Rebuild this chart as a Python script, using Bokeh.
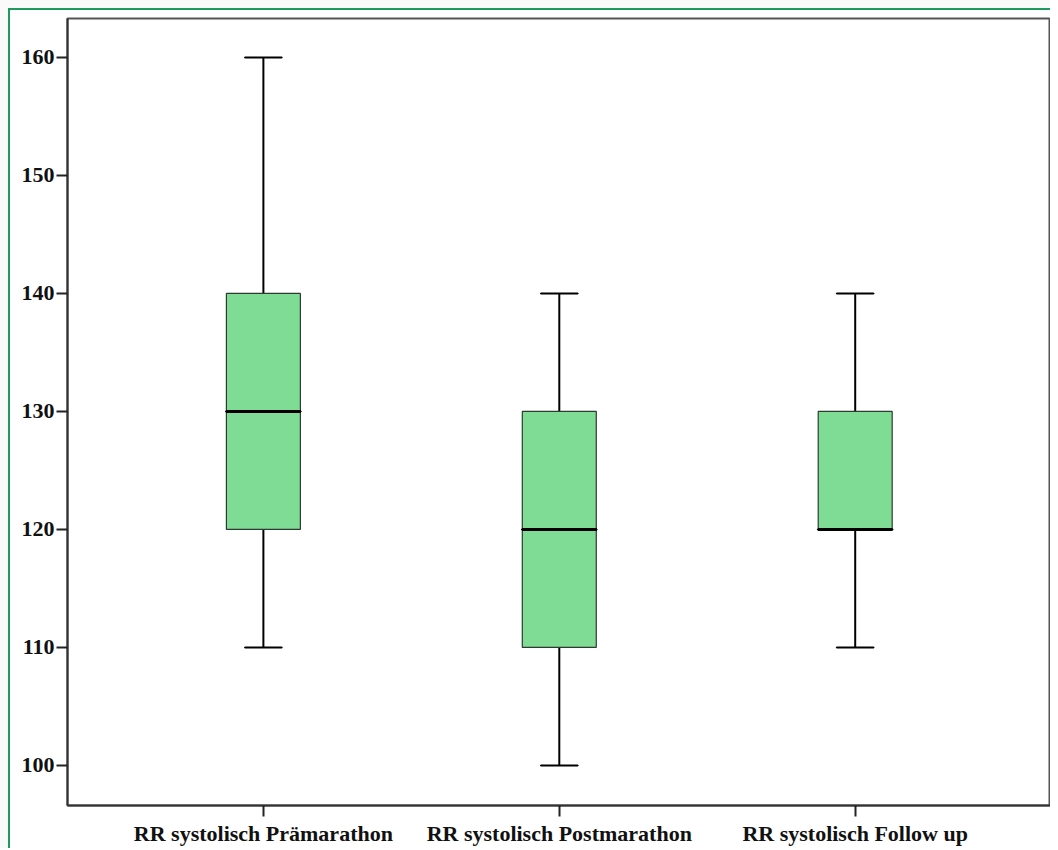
from bokeh.plotting import figure
from bokeh.embed import file_html
from bokeh.resources import INLINE
from bokeh.models import ColumnDataSource, FixedTicker

categories = ["RR systolisch Prämarathon", "RR systolisch Postmarathon", "RR systolisch Follow up"]
mins = [110, 100, 110]
q1 = [120, 110, 120]
medians = [130, 120, 120]
q3 = [140, 130, 130]
maxs = [160, 140, 140]
y_ticks = [100, 110, 120, 130, 140, 150, 160]

xs = list(range(len(categories)))
src = ColumnDataSource(dict(x=xs, mins=mins, q1=q1, med=medians, q3=q3, maxs=maxs))

p = figure(output_backend="svg", toolbar_location=None,
           frame_width=983, frame_height=787,
           min_border_left=67, min_border_right=0, min_border_top=18, min_border_bottom=34,
           x_range=(-0.662, 2.66), y_range=(96.6, 163.3))
p.styles = {"background-color": "white",
            "box-shadow": "inset 8px 8px 0 0 #fafafa, inset 10px 10px 0 0 #1f9a5e"}

p.background_fill_color = "white"
p.border_fill_color = None
p.outline_line_color = "#555555"
p.outline_line_width = 2
p.grid.visible = False

box_w = 0.25
cap_w = 0.125
# whiskers
p.segment(x0="x", y0="q3", x1="x", y1="maxs", source=src, line_color="black", line_width=2)
p.segment(x0="x", y0="mins", x1="x", y1="q1", source=src, line_color="black", line_width=2)
p.rect(x="x", y="maxs", width=cap_w, height=0.001, source=src, line_color="black", line_width=2, fill_color=None)
p.rect(x="x", y="mins", width=cap_w, height=0.001, source=src, line_color="black", line_width=2, fill_color=None)
# boxes
p.vbar(x="x", bottom="q1", top="q3", width=box_w, source=src,
       fill_color="#7edc95", line_color="#2d3b30", line_width=1.2)
# medians
p.rect(x="x", y="med", width=box_w, height=0.001, source=src, line_color="black", line_width=3, fill_color=None)

font = "Liberation Serif"
p.xaxis.ticker = FixedTicker(ticks=xs)
p.xaxis.major_label_overrides = {i: c for i, c in enumerate(categories)}
p.yaxis.ticker = FixedTicker(ticks=y_ticks)
for ax in (p.xaxis[0], p.yaxis[0]):
    ax.axis_line_color = "#333333"
    ax.axis_line_width = 2
    ax.major_tick_line_color = "#222222"
    ax.major_tick_line_width = 2
    ax.major_tick_out = 11
    ax.major_tick_in = 0
    ax.minor_tick_line_color = None
    ax.major_label_text_font = font
    ax.major_label_text_font_style = "bold"
    ax.major_label_text_font_size = "22px"
    ax.major_label_text_color = "#111111"
p.xaxis.major_label_standoff = 4
p.yaxis.major_label_standoff = 2

open("out.html", "w").write(file_html(p, INLINE))
